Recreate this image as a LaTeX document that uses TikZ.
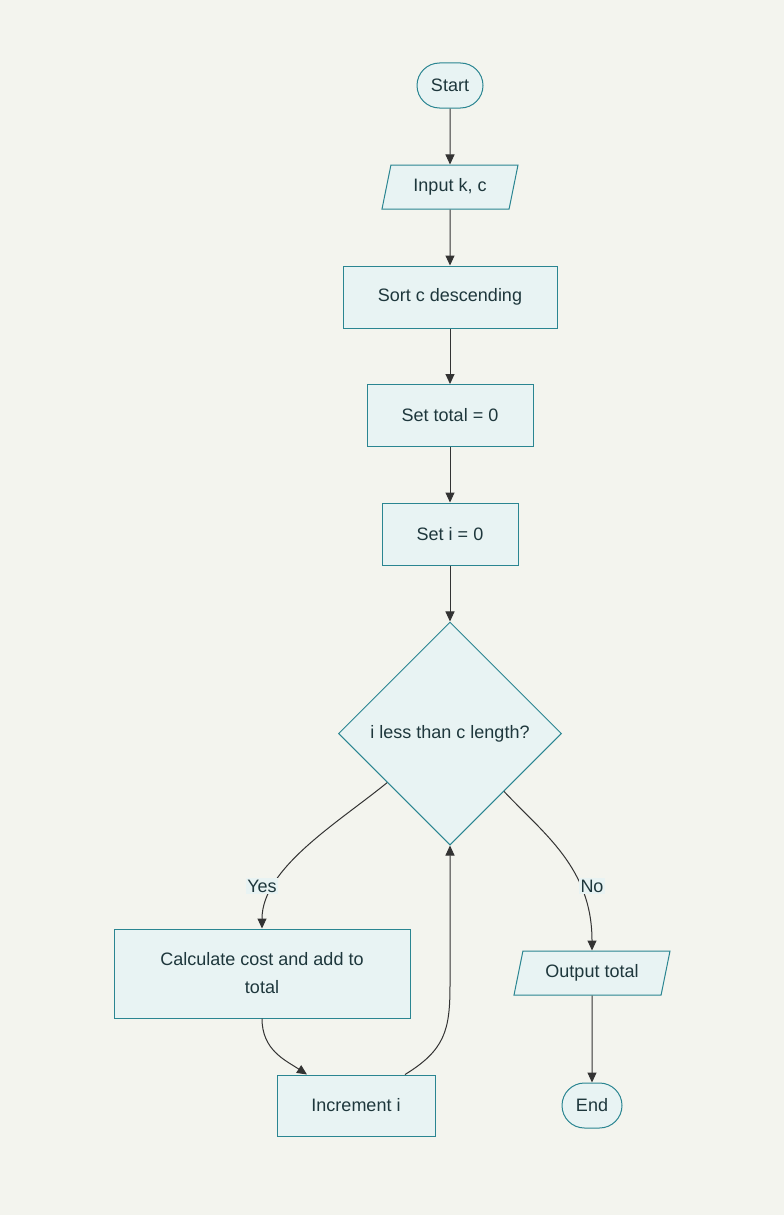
\documentclass[tikz,border=0pt]{standalone}
\usepackage{fontspec}
\setmainfont{Liberation Sans}
\usetikzlibrary{shapes.geometric,arrows.meta}
\definecolor{bgcol}{RGB}{243,244,238}
\definecolor{boxfill}{RGB}{232,243,243}
\definecolor{boxline}{RGB}{42,133,145}
\definecolor{txtcol}{RGB}{30,55,60}
\definecolor{edgecol}{RGB}{51,51,51}

\begin{document}
\begin{tikzpicture}[x=1pt,y=-1pt,
		every node/.style={font=\fontsize{18}{28}\selectfont,text=txtcol},
		box/.style={draw=boxline,fill=boxfill,line width=1pt,inner sep=0pt},
		proc/.style={box,rectangle,minimum height=62pt},
		term/.style={box,rectangle,rounded corners=22.5pt,minimum height=45pt},
		io/.style={box,trapezium,trapezium left angle=62,trapezium right angle=118,trapezium stretches body,minimum height=44pt},
		dec/.style={box,diamond,minimum width=223pt,minimum height=223pt},
		flow/.style={draw=edgecol,line width=1pt,-{Triangle[length=10pt,width=9pt]}},
		lbl/.style={fill=boxfill,inner sep=1.5pt}]
		\fill[bgcol] (0,0) rectangle (784,1215);
		\useasboundingbox (0,0) rectangle (784,1215);
		
		% Draw nodes
		\node[term,minimum width=66pt] (start) at (450,85.5) {Start};
		\node[io,minimum width=136pt] (input) at (450,187) {Input k, c};
		\node[proc,minimum width=214pt] (sort) at (450,297) {Sort c descending};
		\node[proc,minimum width=166pt] (total) at (450,415.5) {Set total = 0};
		\node[proc,minimum width=136pt] (seti) at (450,534) {Set i = 0};
		\node[dec] (check) at (450,733.5) {i less than c length?};
		\node[proc,minimum width=296pt,minimum height=89pt,align=center] (calc) at (262,973.5) {Calculate cost and add to\\total};
		\node[io,minimum width=156pt] (output) at (592,973) {Output total};
		\node[proc,minimum width=158pt,minimum height=61pt] (inc) at (356,1105.5) {Increment i};
		\node[term,minimum width=60pt] (end) at (592,1105.5) {End};
		
		\coordinate (incin) at ([xshift=-49pt]inc.north);
		\coordinate (incout) at ([xshift=49pt]inc.north);
		\coordinate (back) at (450,985);
		
		% Draw straight arrows
		\foreach \a/\b in {start/input, input/sort, sort/total, total/seti, seti/check, output/end}{
			\draw[flow] (\a) -- (\b);
		}
		
		% Draw branches
		\draw[flow] (check.218) .. controls (339,822) and (262,868) .. (calc.north);
		\draw[flow] (check.313) .. controls (544,834) and (592,868) .. (output.north);
		\draw[flow] (calc.south) .. controls (262,1050) and (285,1060) .. (incin);
		\draw[flow] (incout) .. controls (445,1050) and (450,1030) .. (back) -- (check.south);
		\node[lbl] (yes) at (262,886) {Yes};
		\node[lbl] (no) at (592,886) {No};
	\end{tikzpicture}
\end{document}
